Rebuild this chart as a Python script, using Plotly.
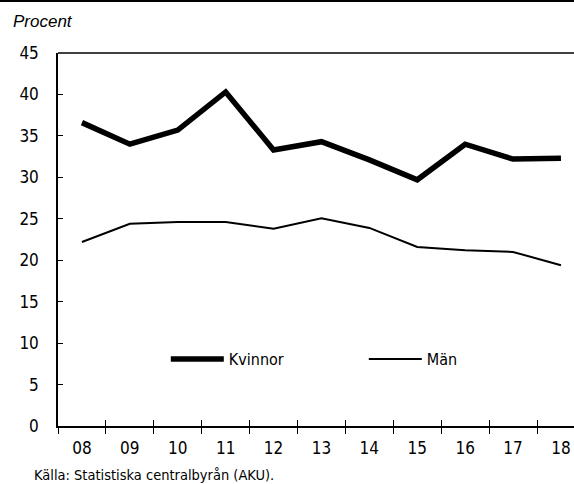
import plotly.graph_objects as go

years = ["08", "09", "10", "11", "12", "13", "14", "15", "16", "17", "18"]
kvinnor = [36.6, 34.0, 35.7, 40.3, 33.3, 34.3, 32.1, 29.7, 34.0, 32.2, 32.3]
man = [22.2, 24.4, 24.6, 24.6, 23.8, 25.05, 23.9, 21.6, 21.2, 21.0, 19.4]
y_ticks = list(range(0, 50, 5))

W, H = 574, 484
ML, MT, MB, MR = 58, 53, 58, 0
pw = W - ML - MR
ph = H - MT - MB

NARROW = "Liberation Sans Narrow, DejaVu Sans Condensed, Arial Narrow, sans-serif"

fig = go.Figure()
fig.add_trace(go.Scatter(x=years, y=kvinnor, name="Kvinnor", mode="lines",
                         line=dict(color="black", width=5.5), xaxis="x", yaxis="y"))
fig.add_trace(go.Scatter(x=years, y=man, name="Män", mode="lines",
                         line=dict(color="black", width=2), xaxis="x2", yaxis="y"))

xr = [-0.5, -0.5 + pw / 47.9]
fig.update_layout(
    width=W, height=H,
    margin=dict(l=ML, r=MR, t=MT, b=MB),
    paper_bgcolor="white", plot_bgcolor="white",
    font=dict(family=NARROW, size=17, color="black"),
    showlegend=True,
    legend=dict(orientation="h", x=(172 - ML) / pw - 0.012, y=(426 - 359) / ph,
                xanchor="left", yanchor="middle", itemwidth=53,
                entrywidth=130, entrywidthmode="pixels",
                font=dict(family=NARROW, size=16), bgcolor="rgba(0,0,0,0)",
                traceorder="normal"),
    xaxis=dict(type="category", categoryorder="array", categoryarray=years,
               range=xr, tickson="boundaries", ticks="outside", ticklen=6,
               tickwidth=1, tickcolor="black", showline=True, linecolor="black",
               linewidth=1.5, mirror=False, showgrid=False, zeroline=False,
               ticklabelstandoff=6, fixedrange=True),
    xaxis2=dict(type="category", categoryorder="array", categoryarray=years,
                overlaying="x", matches="x", anchor="y", side="bottom",
                tickson="boundaries", ticks="inside", ticklen=6, tickwidth=1,
                tickcolor="black", showticklabels=False, showline=False,
                showgrid=False, zeroline=False),
    yaxis=dict(range=[0, 45], tickvals=y_ticks, ticks="inside", ticklen=5,
               tickwidth=1, tickcolor="black", showline=True, linecolor="black",
               linewidth=1.5, showgrid=False, zeroline=False,
               ticklabelstandoff=14, fixedrange=True),
)

# top border of plot area and top rule of figure
fig.add_shape(type="line", xref="paper", yref="paper", x0=0, x1=1, y0=1, y1=1,
              line=dict(color="black", width=1.5))
fig.add_shape(type="line", xref="paper", yref="paper", x0=-ML / pw, x1=1,
              y0=(H - MB - 1) / ph, y1=(H - MB - 1) / ph,
              line=dict(color="black", width=2))

fig.add_annotation(text="<i>Procent</i>", xref="paper", yref="paper",
                   x=(11 - ML) / pw, y=(H - MB - 22) / ph, xanchor="left",
                   yanchor="middle", showarrow=False,
                   font=dict(family="Liberation Sans, Arial, sans-serif", size=17))
fig.add_annotation(text="Källa: Statistiska centralbyrån (AKU).", xref="paper",
                   yref="paper", x=(32 - ML) / pw, y=(H - MB - 475) / ph,
                   xanchor="left", yanchor="middle", showarrow=False,
                   font=dict(family=NARROW, size=14.5))

fig.write_html("out.html", config={"displayModeBar": False},
               post_script="document.body.style.margin='0';document.body.style.overflow='hidden';")
